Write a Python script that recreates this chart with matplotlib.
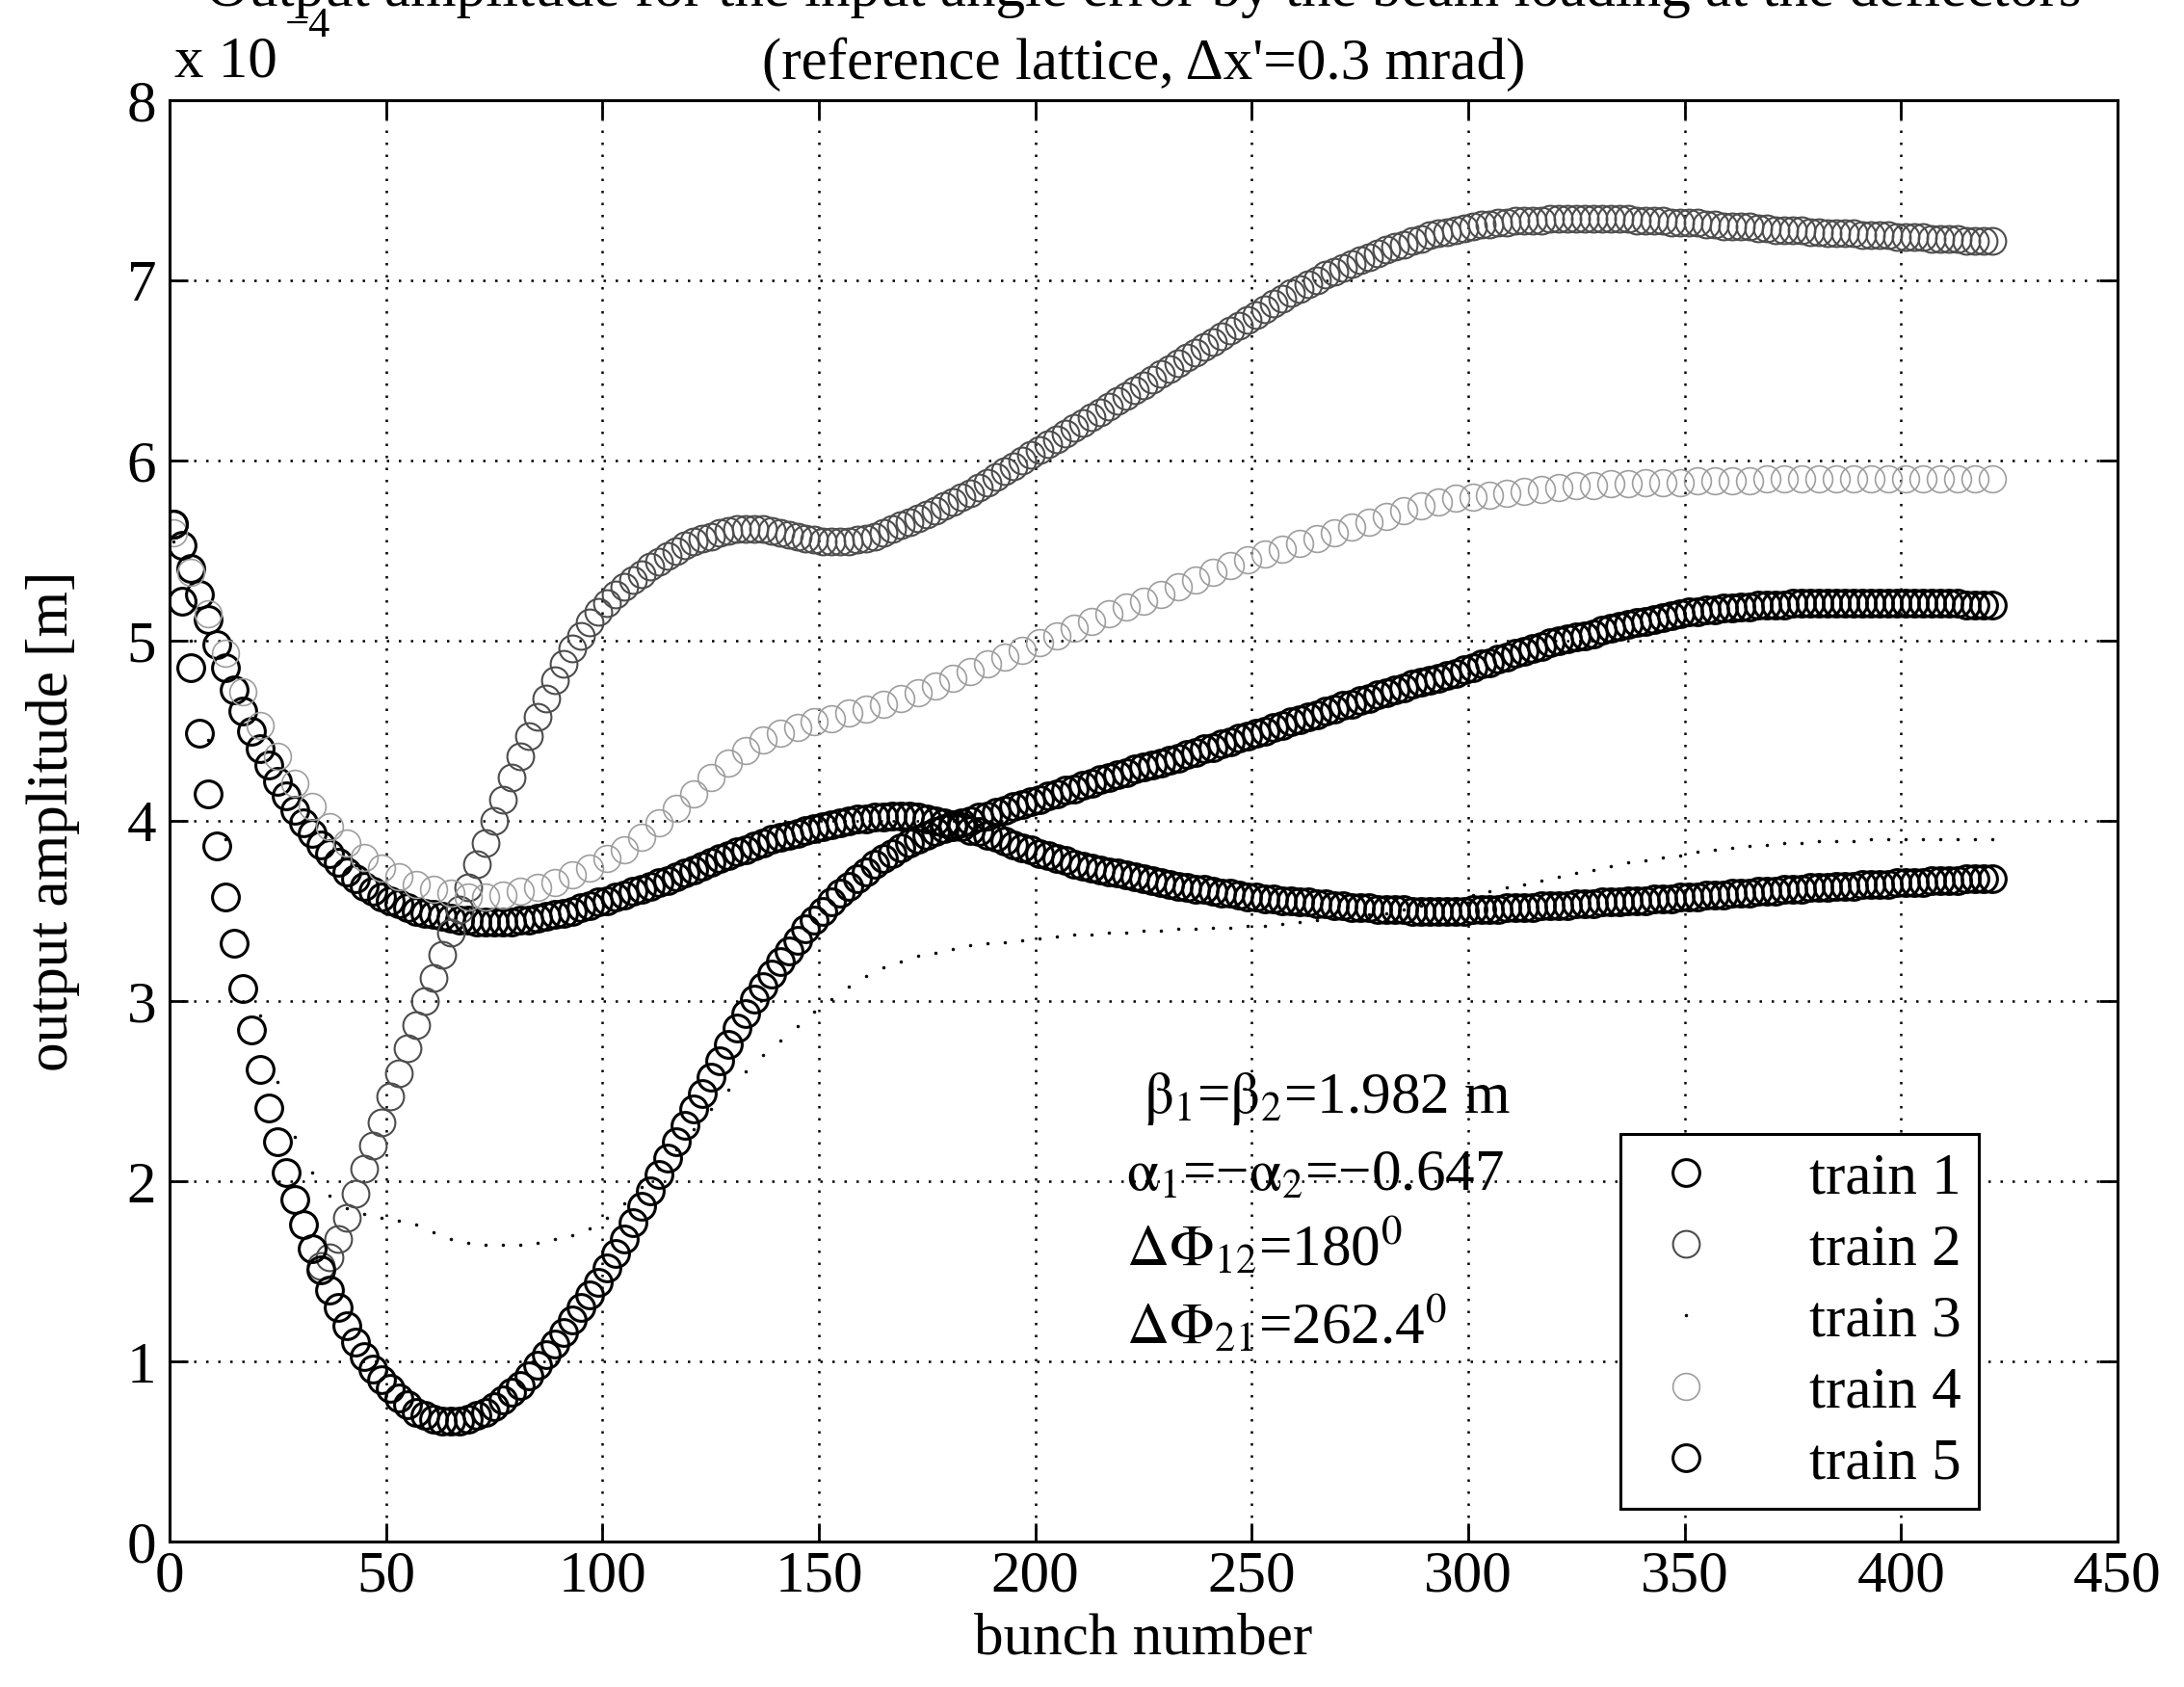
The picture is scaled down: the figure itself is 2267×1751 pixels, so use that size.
import matplotlib
matplotlib.use("Agg")
import matplotlib.pyplot as plt

plt.rcParams['font.family'] = ['Liberation Serif', 'DejaVu Serif']
plt.rcParams['mathtext.fontset'] = 'stix'

# bunch numbers at which values were read
bunch = list(range(1, 422, 2))          # trains 1, 2, 5 (every 2nd bunch)
bunch_coarse = list(range(1, 422, 4))   # trains 3, 4 (every 4th bunch)

# output amplitude in units of 1e-4 m
train1 = [5.65, 5.53, 5.40, 5.26, 5.12, 4.98, 4.85, 4.73, 4.61, 4.50,
          4.40, 4.31, 4.22, 4.14, 4.06, 3.99, 3.93, 3.87, 3.82, 3.77,
          3.72, 3.68, 3.64, 3.61, 3.58, 3.56, 3.54, 3.52, 3.50, 3.49,
          3.48, 3.47, 3.46, 3.45, 3.45, 3.44, 3.44, 3.44, 3.44, 3.44,
          3.45, 3.45, 3.46, 3.47, 3.48, 3.49, 3.50, 3.52, 3.53, 3.55,
          3.56, 3.58, 3.59, 3.61, 3.62, 3.64, 3.66, 3.67, 3.69, 3.71,
          3.73, 3.75, 3.77, 3.79, 3.81, 3.83, 3.84, 3.86, 3.88, 3.90,
          3.91, 3.92, 3.93, 3.95, 3.96, 3.97, 3.98, 3.99, 4.00, 4.01,
          4.01, 4.02, 4.02, 4.03, 4.03, 4.03, 4.02, 4.01, 4.00, 3.99,
          3.98, 3.97, 3.95, 3.94, 3.92, 3.91, 3.89, 3.87, 3.85, 3.84,
          3.82, 3.81, 3.79, 3.78, 3.76, 3.75, 3.74, 3.73, 3.72, 3.71,
          3.70, 3.69, 3.68, 3.67, 3.66, 3.65, 3.64, 3.63, 3.62, 3.62,
          3.61, 3.60, 3.60, 3.59, 3.58, 3.58, 3.57, 3.57, 3.56, 3.56,
          3.55, 3.55, 3.54, 3.54, 3.53, 3.53, 3.52, 3.52, 3.52, 3.51,
          3.51, 3.51, 3.51, 3.50, 3.50, 3.50, 3.50, 3.50, 3.50, 3.50,
          3.51, 3.51, 3.51, 3.51, 3.52, 3.52, 3.52, 3.52, 3.53, 3.53,
          3.53, 3.53, 3.54, 3.54, 3.54, 3.55, 3.55, 3.55, 3.56, 3.56,
          3.56, 3.57, 3.57, 3.57, 3.58, 3.58, 3.58, 3.59, 3.59, 3.59,
          3.60, 3.60, 3.60, 3.61, 3.61, 3.61, 3.62, 3.62, 3.62, 3.63,
          3.63, 3.63, 3.64, 3.64, 3.64, 3.65, 3.65, 3.65, 3.65, 3.66,
          3.66, 3.66, 3.66, 3.67, 3.67, 3.67, 3.67, 3.68, 3.68, 3.68,
          3.68]

train2 = [5.65, 5.22, 4.85, 4.49, 4.15, 3.86, 3.58, 3.32, 3.07, 2.84,
          2.62, 2.41, 2.22, 2.05, 1.90, 1.76, 1.63, 1.53, 1.58, 1.68,
          1.80, 1.93, 2.07, 2.20, 2.33, 2.47, 2.60, 2.74, 2.87, 3.00,
          3.13, 3.26, 3.38, 3.51, 3.63, 3.76, 3.88, 4.00, 4.12, 4.24,
          4.36, 4.47, 4.58, 4.68, 4.78, 4.87, 4.96, 5.03, 5.10, 5.16,
          5.21, 5.26, 5.30, 5.34, 5.37, 5.41, 5.44, 5.47, 5.50, 5.53,
          5.55, 5.57, 5.58, 5.60, 5.61, 5.62, 5.62, 5.62, 5.62, 5.61,
          5.60, 5.59, 5.58, 5.57, 5.56, 5.55, 5.55, 5.55, 5.55, 5.56,
          5.57, 5.58, 5.60, 5.62, 5.64, 5.66, 5.68, 5.70, 5.72, 5.75,
          5.77, 5.80, 5.82, 5.85, 5.88, 5.91, 5.94, 5.97, 6.00, 6.03,
          6.06, 6.09, 6.12, 6.15, 6.18, 6.21, 6.24, 6.27, 6.30, 6.33,
          6.36, 6.39, 6.42, 6.45, 6.48, 6.51, 6.54, 6.57, 6.60, 6.63,
          6.66, 6.69, 6.72, 6.75, 6.78, 6.81, 6.84, 6.87, 6.90, 6.93,
          6.95, 6.98, 7.00, 7.03, 7.05, 7.07, 7.09, 7.11, 7.13, 7.15,
          7.17, 7.19, 7.20, 7.22, 7.23, 7.25, 7.26, 7.27, 7.28, 7.29,
          7.30, 7.31, 7.31, 7.32, 7.32, 7.33, 7.33, 7.33, 7.33, 7.34,
          7.34, 7.34, 7.34, 7.34, 7.34, 7.34, 7.34, 7.34, 7.34, 7.33,
          7.33, 7.33, 7.33, 7.32, 7.32, 7.32, 7.32, 7.31, 7.31, 7.30,
          7.30, 7.30, 7.30, 7.29, 7.29, 7.28, 7.28, 7.28, 7.28, 7.27,
          7.27, 7.26, 7.26, 7.26, 7.26, 7.25, 7.25, 7.25, 7.25, 7.24,
          7.24, 7.24, 7.24, 7.23, 7.23, 7.23, 7.23, 7.22, 7.22, 7.22,
          7.22]

train3 = [5.55, 5.00, 4.45, 3.90, 3.38, 2.92, 2.55, 2.25, 2.05, 1.92, 1.85, 1.82, 1.80, 1.78, 1.76, 1.72,
          1.68, 1.66, 1.65, 1.65, 1.65, 1.66, 1.68, 1.70, 1.74, 1.80, 1.88, 1.97, 2.07, 2.18, 2.29, 2.40,
          2.51, 2.61, 2.70, 2.78, 2.86, 2.94, 3.01, 3.08, 3.14, 3.19, 3.22, 3.25, 3.27, 3.29, 3.31, 3.32,
          3.33, 3.34, 3.35, 3.36, 3.37, 3.37, 3.38, 3.38, 3.39, 3.39, 3.40, 3.40, 3.41, 3.41, 3.42, 3.42,
          3.43, 3.44, 3.45, 3.46, 3.47, 3.48, 3.49, 3.51, 3.53, 3.55, 3.57, 3.59, 3.61, 3.63, 3.65, 3.67,
          3.69, 3.71, 3.73, 3.75, 3.77, 3.78, 3.80, 3.81, 3.83, 3.84, 3.85, 3.86, 3.87, 3.88, 3.88, 3.89,
          3.89, 3.89, 3.90, 3.90, 3.90, 3.90, 3.90, 3.90, 3.90, 3.90]

train4 = [5.60, 5.38, 5.15, 4.93, 4.72, 4.53, 4.36, 4.21, 4.08, 3.97, 3.88, 3.80, 3.74, 3.69, 3.65, 3.62,
          3.60, 3.58, 3.58, 3.59, 3.61, 3.63, 3.66, 3.70, 3.74, 3.79, 3.84, 3.91, 3.99, 4.07, 4.15, 4.24,
          4.32, 4.39, 4.45, 4.49, 4.52, 4.55, 4.57, 4.60, 4.62, 4.65, 4.68, 4.71, 4.75, 4.79, 4.83, 4.87,
          4.91, 4.95, 4.99, 5.03, 5.07, 5.11, 5.15, 5.19, 5.22, 5.26, 5.30, 5.34, 5.38, 5.42, 5.45, 5.48,
          5.51, 5.54, 5.57, 5.60, 5.63, 5.66, 5.69, 5.72, 5.75, 5.77, 5.79, 5.80, 5.81, 5.82, 5.83, 5.84,
          5.85, 5.86, 5.86, 5.87, 5.87, 5.88, 5.88, 5.88, 5.89, 5.89, 5.89, 5.89, 5.90, 5.90, 5.90, 5.90,
          5.90, 5.90, 5.90, 5.90, 5.90, 5.90, 5.90, 5.90, 5.90, 5.90]

train5 = [5.65, 5.22, 4.85, 4.49, 4.15, 3.86, 3.58, 3.32, 3.07, 2.84,
          2.62, 2.41, 2.22, 2.05, 1.90, 1.76, 1.63, 1.51, 1.40, 1.30,
          1.20, 1.11, 1.03, 0.96, 0.90, 0.85, 0.80, 0.76, 0.72, 0.70,
          0.68, 0.67, 0.67, 0.67, 0.68, 0.70, 0.72, 0.75, 0.79, 0.83,
          0.87, 0.92, 0.98, 1.04, 1.10, 1.16, 1.23, 1.30, 1.37, 1.44,
          1.52, 1.60, 1.68, 1.77, 1.86, 1.95, 2.04, 2.13, 2.22, 2.31,
          2.40, 2.49, 2.58, 2.67, 2.76, 2.85, 2.93, 3.01, 3.08, 3.15,
          3.22, 3.28, 3.34, 3.40, 3.45, 3.50, 3.55, 3.60, 3.64, 3.68,
          3.72, 3.76, 3.79, 3.82, 3.85, 3.88, 3.90, 3.92, 3.94, 3.96,
          3.97, 3.99, 4.00, 4.02, 4.03, 4.05, 4.06, 4.08, 4.09, 4.11,
          4.12, 4.14, 4.15, 4.17, 4.18, 4.20, 4.21, 4.23, 4.24, 4.26,
          4.27, 4.29, 4.30, 4.31, 4.32, 4.34, 4.35, 4.37, 4.38, 4.40,
          4.41, 4.43, 4.44, 4.46, 4.47, 4.49, 4.50, 4.52, 4.53, 4.55,
          4.56, 4.58, 4.59, 4.61, 4.62, 4.64, 4.65, 4.67, 4.68, 4.70,
          4.71, 4.73, 4.74, 4.76, 4.77, 4.78, 4.79, 4.81, 4.82, 4.84,
          4.85, 4.87, 4.88, 4.90, 4.91, 4.93, 4.94, 4.96, 4.97, 4.99,
          5.00, 5.01, 5.02, 5.03, 5.04, 5.06, 5.07, 5.08, 5.09, 5.10,
          5.11, 5.12, 5.13, 5.14, 5.15, 5.16, 5.16, 5.17, 5.17, 5.18,
          5.18, 5.19, 5.19, 5.20, 5.20, 5.20, 5.20, 5.21, 5.21, 5.21,
          5.21, 5.21, 5.21, 5.21, 5.21, 5.21, 5.21, 5.21, 5.21, 5.21,
          5.21, 5.21, 5.21, 5.21, 5.21, 5.21, 5.21, 5.20, 5.20, 5.20,
          5.20]

labels = ['train 1', 'train 2', 'train 3', 'train 4', 'train 5']
xticks = [0, 50, 100, 150, 200, 250, 300, 350, 400, 450]
yticks = [0, 1, 2, 3, 4, 5, 6, 7, 8]

FS = 44

fig = plt.figure(figsize=(22.67, 17.51), dpi=100)
ax = fig.add_axes([0.0776, 0.0860, 0.8920, 0.8546])

styles = [
    dict(marker='o', ms=20, mfc='none', mec='black', mew=2.2),
    dict(marker='o', ms=20, mfc='none', mec='0.3', mew=1.5),
    dict(marker='.', ms=4, mfc='black', mec='black', mew=0.5),
    dict(marker='o', ms=20, mfc='none', mec='0.62', mew=1.2),
    dict(marker='o', ms=20, mfc='none', mec='black', mew=2.2),
]
xs = [bunch, bunch, bunch_coarse, bunch_coarse, bunch]
series = [train1, train2, train3, train4, train5]
for x, vals, st, lab in zip(xs, series, styles, labels):
    ax.plot(x, vals, linestyle='none', label=lab, **st)

ax.set_xlim(0, 450)
ax.set_ylim(0, 8)
ax.set_xticks(xticks)
ax.set_yticks(yticks)
ax.tick_params(direction='in', length=14, width=2, labelsize=FS,
               top=True, right=True)
ax.tick_params(axis='x', pad=6)
ax.tick_params(axis='y', pad=10)
for s in ax.spines.values():
    s.set_linewidth(2.2)
ax.grid(True, color='black', linestyle=(0, (1, 4)), linewidth=1.8)

ax.set_xlabel('bunch number', fontsize=FS, va='center')
ax.set_ylabel('output amplitude [m]', fontsize=FS, va='center')
ax.xaxis.set_label_coords(0.5, -0.068)
ax.yaxis.set_label_coords(-0.060, 0.5)

ax.text(225, 2.38, r'$\mathrm{\beta}_1$=$\mathrm{\beta}_2$=1.982 m', fontsize=FS, va='baseline')
ax.text(221, 1.95, r'$\mathrm{\alpha}_1$=−$\mathrm{\alpha}_2$=−0.647', fontsize=FS, va='baseline')
ax.text(221, 1.53, r'$\Delta\Phi_{12}$=180$^0$', fontsize=FS, va='baseline')
ax.text(221, 1.10, r'$\Delta\Phi_{21}$=262.4$^0$', fontsize=FS, va='baseline')

leg = ax.legend(loc='upper left', bbox_to_anchor=(0.745, 0.283), fontsize=FS,
                frameon=True, fancybox=False, edgecolor='black', framealpha=1,
                borderaxespad=0, borderpad=0.3, labelspacing=0.3,
                handlelength=1.6, handletextpad=1.3, markerscale=1.0)
leg.get_frame().set_linewidth(2.2)

fig.text(0.5 * (0.0776 + 0.9696), 1 - 6 / 1751,
         'Output amplitude for the input angle error by the beam loading at the deflectors',
         fontsize=FS, ha='center', va='baseline')
fig.text(0.5 * (0.0776 + 0.9696), 1 - 82 / 1751,
         "(reference lattice, Δx'=0.3 mrad)", fontsize=FS, ha='center', va='baseline')
fig.text(181 / 2267, 1 - 80 / 1751, 'x 10', fontsize=FS, ha='left', va='baseline')
fig.text(296 / 2267, 1 - 38 / 1751, '−4', fontsize=32, ha='left', va='baseline')

fig.savefig('out.png', dpi=100)
